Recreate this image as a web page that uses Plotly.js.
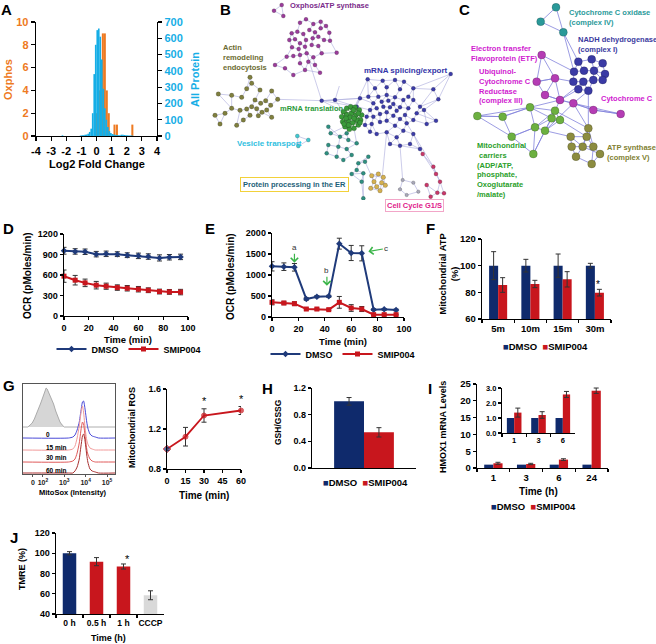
<!DOCTYPE html>
<html><head><meta charset="utf-8">
<script src="https://cdn.plot.ly/plotly-3.0.1.min.js"></script>
<style>html,body{margin:0;padding:0;background:#fff}#chart{width:656px;height:644px}</style>
</head><body><div id="chart"></div>
<script>
const W = 656, H = 644;
const FONT = 'Liberation Sans, Arial, Helvetica, sans-serif';
const NAVY = '#0f2a6c', NAVY_L = '#1f3a7a', RED = '#c8161d', ORANGE = '#ee7a22', SKY = '#16aee6', GREYBAR = '#d9d9d9';

// ---------------- DATA ----------------
// A: histograms
const aProteinX = [-2.25,-1.05,-0.95,-0.85,-0.75,-0.65,-0.55,-0.45,-0.35,-0.25,-0.15,-0.05,0.05,0.15,0.25,0.35,0.45,0.55,0.65,0.75,0.85,0.95,1.05,1.15,1.25,1.35,1.45,1.55,1.65,1.75,1.85,1.95,2.05,2.15,2.25,2.35];
const aProteinY = [4,3,4,5,7,9,14,25,45,140,380,560,650,660,610,470,290,170,100,55,30,18,12,9,7,6,5,5,8,7,6,5,4,3,3,3];
const aOxphosX = [0.03,0.16,0.29,0.42,0.55,0.68,0.81,1.19,1.35,2.37];
const aOxphosY = [2,4,6,9,9,4,2,1,1,1];
const aTicks = [-4,-3,-2,-1,0,1,2,3,4];
const aTickText = ['-4','-3','-2','-1','0','1','2','3','4'];

// B: network nodes (layout coordinates)
const bOxphos = [[245,15],[222,32],[250,48],[300,68],[318,58],[340,72],[362,65],[275,100],[292,95],[310,102],[328,90],[345,97],[362,85],[378,78],[388,98],[268,120],[285,118],[300,130],[318,120],[338,115],[355,110],[372,120],[390,122],[276,142],[296,147],[315,140],[335,135],[355,138],[260,170],[280,168],[300,165],[320,160],[340,172],[365,160],[410,158],[225,195],[255,205],[300,190],[325,185],[345,195],[280,225],[315,210],[360,218]];
const bActin = [[150,232],[155,250],[140,266],[55,282],[95,286],[125,292],[180,270],[215,273],[233,298],[165,300],[182,310],[197,302],[212,316],[200,330],[186,337],[170,326],[155,320],[140,327],[120,331],[150,346],[175,347],[215,352],[45,346],[75,340],[60,372],[110,376],[130,360],[95,325]];
const bTranslation = [[430,335],[440,325],[452,320],[465,322],[478,330],[485,345],[482,360],[475,375],[462,385],[448,388],[435,380],[428,365],[425,350],[440,345],[455,340],[468,345],[470,360],[458,368],[445,362],[450,352],[462,355],[438,355],[475,340],[445,375],[460,330],[432,372],[480,368]];
const bSplicing = [[503,238],[548,242],[585,240],[612,245],[640,265],[525,265],[560,262],[600,268],[625,290],[505,290],[535,290],[560,285],[585,292],[610,300],[640,300],[660,320],[480,295],[470,320],[520,310],[545,305],[565,302],[580,312],[600,322],[625,325],[650,340],[510,330],[530,325],[550,320],[570,322],[590,332],[615,345],[640,360],[500,350],[520,350],[540,342],[560,337],[580,347],[600,357],[620,370],[495,375],[515,372],[540,366],[560,362],[585,377],[610,392],[640,402],[510,395],[530,402],[560,397],[590,412],[570,432],[600,437],[630,432],[660,447],[405,300],[365,302],[752,222],[700,268],[715,298],[672,330],[708,362],[680,372]];
const bER = [[385,380],[392,400],[420,410],[440,400],[445,420],[385,435],[415,440],[440,447],[470,430],[455,465],[430,480],[475,490],[495,485],[505,470],[470,510],[490,520],[455,522],[485,545],[490,595],[410,470],[380,460]];
const bVesicle = [[292,408],[325,420],[295,438]];
const bGold = [[515,527],[535,522],[550,532],[522,545],[545,548],[530,560],[512,565],[540,572],[556,556]];
const bGrey = [[608,540],[640,548],[655,575],[620,585],[600,568]];
const bCellCycle = [[668,462],[700,500],[708,522],[720,545],[680,555],[732,580],[712,578],[692,590]];
const bLinks = [[[320,160],[365,302]],[[365,302],[405,300]],[[233,298],[365,302]],[[405,300],[430,335]],[[365,302],[430,335]],[[503,238],[455,340]],[[480,295],[455,340]],[[445,375],[392,400]],[[440,447],[455,465]],[[495,485],[522,545]],[[462,385],[470,430]],[[560,397],[545,548]],[[600,437],[608,540]],[[640,402],[700,500]],[[660,447],[668,462]],[[418,258],[405,300]]];

// C: network nodes
const cIV = [[408,22],[362,65],[430,97]];
const cI = [[475,185],[515,178],[548,190],[462,215],[492,212],[522,212],[555,222],[460,245],[490,245],[520,240],[548,240],[505,272],[475,268]];
const cIII = [[365,165],[405,235],[350,245],[375,285],[420,300],[460,310],[520,330],[602,342]];
const cCarriers = [[172,348],[248,350],[330,322],[405,332],[275,410],[345,382],[375,392],[420,360],[340,462],[395,355]];
const cV = [[505,385],[452,410],[500,410],[488,440],[520,440],[540,462],[468,470],[515,492],[455,440]];
const cLinks = [[[405,235],[460,245]],[[420,300],[490,245]],[[460,310],[505,272]],[[420,300],[475,268]],[[365,165],[462,215]],[[375,285],[420,300]],[[420,300],[460,310]],[[460,310],[520,330]],[[520,330],[602,342]],[[350,245],[405,235]],[[405,235],[420,300]],[[430,97],[475,185]],[[430,97],[462,215]],[[330,322],[420,300]],[[405,332],[420,300]],[[375,392],[460,310]],[[248,350],[330,322]],[[172,348],[248,350]],[[345,382],[405,332]],[[375,392],[452,410]],[[405,332],[505,385]],[[420,360],[500,410]],[[460,310],[505,385]],[[340,462],[375,392]],[[505,385],[505,272]],[[275,410],[345,382]]];

// D / E: OCR time courses
const timeMin = [0,9,17,26,34,43,51,60,68,77,85,94];
const dDmso = [955,945,940,905,910,905,890,880,870,850,860,865];
const dDmsoErr = [50,40,40,40,40,35,35,40,40,45,40,40];
const dSmip = [583,524,485,451,436,416,406,392,377,358,353,350];
const dSmipErr = [90,70,55,55,45,40,40,40,35,35,35,40];
const eDmso = [1206,1198,1183,429,484,492,1746,1524,1516,175,183,167];
const eDmsoErr = [110,90,90,30,25,25,130,180,180,20,20,20];
const eSmip = [349,333,317,190,190,175,349,214,190,56,56,56];
const eSmipErr = [60,40,45,20,20,20,140,80,60,15,10,10];

// F: mitochondrial ATP
const fCats = ['5m','10m','15m','30m'];
const fDmso = [100,100,100,100];
const fDmsoErr = [10.5,4.75,8.75,1.75];
const fSmip = [85.5,86.25,89.75,79.75];
const fSmipErr = [5.5,2.75,5.75,2.5];

// G: MitoSox flow histograms (x in log10 intensity units)
const ffGreyX = [1.07,1.30,1.40,1.50,1.60,1.70,1.80,1.90,2.00,2.10,2.15,2.20,2.25,2.30,2.40,2.50,2.60,2.70,2.80,2.90,3.00,5.37];
const ffGreyY = [0,0,2,4,8,13,19,24,30,36,39,38,36,33,28,23,16,10,5,2,0,0];
const ffX = [1.07,3.20,3.40,3.50,3.60,3.70,3.75,3.80,3.85,3.90,3.95,4.00,4.05,4.10,4.20,4.30,4.45,4.60,5.37];
const ff0Y = [0,0,1,3,8,16,23,30,36,37,32,24,16,10,4,2,1,0,0];
const ff15Y = [0,0,1,4,12,24,32,40,44,38,27,17,10,6,2,1,0,0,0];
const ff30Y = [0,0,1,3,9,19,27,35,40,38,30,21,13,8,3,1,0,0,0];
const ff60Y = [0,0,0,2,6,14,22,30,37,39,35,27,18,11,4,2,1,0,0];
const ffTickVals = [1.53,2,3,4,5];
const ffTickText = ['0','10<sup>2</sup>','10<sup>3</sup>','10<sup>4</sup>','10<sup>5</sup>'];
const ffLabels = ['0','15 min','30 min','60 min'];
// G: mitochondrial ROS
const rosTime = [0,15,30,60];
const ros = [1.0,1.123,1.335,1.385];
const rosErr = [0.015,0.093,0.067,0.04];

// H: GSH/GSSG
const hCats = ['DMSO','SMIP004'];
const hVals = [1.0,0.535];
const hErr = [0.057,0.07];

// I: HMOX1 mRNA
const iCats = ['1','3','6','24'];
const iDmso = [1,1,1,1];
const iSmip = [1.4,1.2,2.5,23.0];
const iSmipErr = [0.3,0.2,0.25,0.8];
const insetCats = ['1','3','6'];
const insetDmso = [1,1,1];
const insetSmip = [1.36,1.2,2.57];
const insetSmipErr = [0.3,0.22,0.2];

// J: TMRE
const jCats = ['0 h','0.5 h','1 h','CCCP'];
const jVals = [100,91.7,86.9,58.5];
const jErr = [1.6,4,2.5,4.4];

// ---------------- HELPERS ----------------
const dx = (a,b) => [a/W, b/W];
const dy = (top,bottom) => [1-bottom/H, 1-top/H];
function tf(size,color,weight){ return {family:FONT,size:size,color:color||'#000',weight:weight||'bold'}; }
function ax(extra){
  return Object.assign({showgrid:false,zeroline:false,showline:true,linecolor:'#000',linewidth:1.3,
    ticks:'outside',ticklen:3,tickwidth:1.2,tickcolor:'#000',tickfont:tf(9.5),fixedrange:true,tickangle:0}, extra);
}
function ann(text,x,y,o){
  o = o||{};
  return Object.assign({xref:'paper',yref:'paper',x:x/W,y:1-y/H,text:text,showarrow:false,
    xanchor:o.xa||'center',yanchor:'middle',align:o.align||'center',textangle:o.rot?-90:0,
    font:tf(o.size||9.5,o.color,o.weight)}, o.extra||{});
}
function knn(nodes,k){
  const segs=[], seen=new Set();
  nodes.forEach((p,i)=>{
    nodes.map((q,j)=>[j,(q[0]-p[0])**2+(q[1]-p[1])**2]).filter(e=>e[0]!==i)
      .sort((a,b)=>a[1]-b[1]).slice(0,k).forEach(([j])=>{
        const key = i<j ? i+'-'+j : j+'-'+i;
        if(!seen.has(key)){ seen.add(key); segs.push([p,nodes[j]]); }
      });
  });
  return segs;
}
function edgeTrace(segs,color,width,xa,ya,op){
  const xs=[],ys=[];
  segs.forEach(s=>{xs.push(s[0][0],s[1][0],null); ys.push(s[0][1],s[1][1],null);});
  return {type:'scatter',mode:'lines',x:xs,y:ys,line:{color:color,width:width},opacity:op||1,
    xaxis:xa,yaxis:ya,showlegend:false,hoverinfo:'skip'};
}
function nodeTrace(nodes,color,size,xa,ya){
  return {type:'scatter',mode:'markers',x:nodes.map(p=>p[0]),y:nodes.map(p=>p[1]),
    marker:{color:color,size:size,line:{color:'rgba(0,0,0,0.35)',width:0.5}},
    xaxis:xa,yaxis:ya,showlegend:false,hoverinfo:'skip'};
}
const errStyle = arr => ({type:'data',array:arr,color:'#333',thickness:1,width:2.5});

// ---------------- TRACES ----------------
const traces = [];
// A
traces.push({type:'bar',x:aOxphosX,y:aOxphosY,width:0.135,offset:-0.0675,marker:{color:ORANGE,line:{width:0}},xaxis:'x',yaxis:'y',name:'Oxphos',showlegend:false});
traces.push({type:'bar',x:aProteinX,y:aProteinY,width:0.11,offset:-0.055,marker:{color:SKY,line:{width:0}},xaxis:'x',yaxis:'y2',name:'All Protein',showlegend:false});

// B
traces.push(edgeTrace([].concat(knn(bOxphos,2),knn(bActin,2),knn(bSplicing,3),knn(bER,2),knn(bVesicle,2),knn(bGold,3),knn(bGrey,2),knn(bCellCycle,2),bLinks),'#a9a9dc',0.6,'x2','y3'));
traces.push(edgeTrace(knn(bTranslation,5),'#2f7f2f',0.8,'x2','y3'));
traces.push(nodeTrace(bOxphos,'#9a3c9a',4,'x2','y3'));
traces.push(nodeTrace(bActin,'#7f7f3f',4.5,'x2','y3'));
traces.push(nodeTrace(bSplicing,'#3c3ca8',4,'x2','y3'));
traces.push(nodeTrace(bTranslation,'#3a9a3a',5,'x2','y3'));
traces.push(nodeTrace(bER,'#2f8f80',4,'x2','y3'));
traces.push(nodeTrace(bVesicle,'#40c8d0',4,'x2','y3'));
traces.push(nodeTrace(bGold,'#d4b050',4.5,'x2','y3'));
traces.push(nodeTrace(bGrey,'#a8a8b8',3.5,'x2','y3'));
traces.push(nodeTrace(bCellCycle,'#c8386a',4,'x2','y3'));

// C
traces.push(edgeTrace([].concat(knn(cIV,2),knn(cI,3),knn(cIII,2),knn(cCarriers,3),knn(cV,3),cLinks),'#5b5bd0',0.8,'x3','y4',0.75));
traces.push(nodeTrace(cIV,'#2a9999',8,'x3','y4'));
traces.push(nodeTrace(cI,'#3a3aa5',8,'x3','y4'));
traces.push(nodeTrace(cIII,'#b43cb4',8,'x3','y4'));
traces.push(nodeTrace(cCarriers,'#6cb040',8,'x3','y4'));
traces.push(nodeTrace(cV,'#8c8c40',8,'x3','y4'));

// D
traces.push({type:'scatter',mode:'lines+markers',x:timeMin,y:dDmso,name:'DMSO',xaxis:'x4',yaxis:'y5',
  line:{color:NAVY_L,width:2},marker:{symbol:'diamond',size:5,color:NAVY_L},error_y:errStyle(dDmsoErr),legend:'legend',cliponaxis:false});
traces.push({type:'scatter',mode:'lines+markers',x:timeMin,y:dSmip,name:'SMIP004',xaxis:'x4',yaxis:'y5',
  line:{color:RED,width:2},marker:{symbol:'square',size:5,color:RED},error_y:errStyle(dSmipErr),legend:'legend',cliponaxis:false});
// E
traces.push({type:'scatter',mode:'lines+markers',x:timeMin,y:eDmso,name:'DMSO',xaxis:'x5',yaxis:'y6',
  line:{color:NAVY_L,width:2},marker:{symbol:'diamond',size:5,color:NAVY_L},error_y:errStyle(eDmsoErr),legend:'legend2',cliponaxis:false});
traces.push({type:'scatter',mode:'lines+markers',x:timeMin,y:eSmip,name:'SMIP004',xaxis:'x5',yaxis:'y6',
  line:{color:RED,width:2},marker:{symbol:'square',size:5,color:RED},error_y:errStyle(eSmipErr),legend:'legend2',cliponaxis:false});
// F
traces.push({type:'bar',x:fCats,y:fDmso,width:0.28,offset:-0.28,marker:{color:NAVY},error_y:errStyle(fDmsoErr),xaxis:'x6',yaxis:'y7',name:'DMSO',showlegend:false});
traces.push({type:'bar',x:fCats,y:fSmip,width:0.28,offset:0,marker:{color:RED},error_y:errStyle(fSmipErr),xaxis:'x6',yaxis:'y7',name:'SMIP004',showlegend:false});

// G flow histograms (stacked with vertical offsets)
const FF_OFF = {grey:47, t0:36, t15:24, t30:12, t60:1};
traces.push({type:'scatter',mode:'lines',x:ffGreyX,y:ffGreyY.map(v=>v+FF_OFF.grey),fill:'toself',fillcolor:'#d6d6d6',
  line:{color:'#9a9a9a',width:0.8},xaxis:'x7',yaxis:'y8',showlegend:false,hoverinfo:'skip'});
[[ff0Y,FF_OFF.t0,'#4a4ad8'],[ff15Y,FF_OFF.t15,'#f29a9a'],[ff30Y,FF_OFF.t30,'#e05a5a'],[ff60Y,FF_OFF.t60,'#a83030']].forEach(s=>{
  traces.push({type:'scatter',mode:'lines',x:ffX,y:s[0].map(v=>v+s[1]),line:{color:s[2],width:1,shape:'spline',smoothing:0.6},
    xaxis:'x7',yaxis:'y8',showlegend:false,hoverinfo:'skip'});
});
// G ROS
traces.push({type:'scatter',mode:'lines+markers',x:rosTime,y:ros,xaxis:'x8',yaxis:'y9',showlegend:false,cliponaxis:false,
  line:{color:RED,width:1.8},marker:{size:[6,5,5,5],symbol:['diamond','circle','circle','circle'],color:[NAVY_L,RED,RED,RED]},
  error_y:errStyle(rosErr)});

// H
traces.push({type:'bar',x:[hCats[0]],y:[hVals[0]],width:1,offset:-0.5,marker:{color:NAVY},error_y:errStyle([hErr[0]]),xaxis:'x9',yaxis:'y10',name:'DMSO',showlegend:false});
traces.push({type:'bar',x:[hCats[1]],y:[hVals[1]],width:1,offset:-0.5,marker:{color:RED},error_y:errStyle([hErr[1]]),xaxis:'x9',yaxis:'y10',name:'SMIP004',showlegend:false});

// I main + inset
traces.push({type:'bar',x:iCats,y:iDmso,width:0.28,offset:-0.28,marker:{color:NAVY},xaxis:'x10',yaxis:'y11',name:'DMSO',showlegend:false});
traces.push({type:'bar',x:iCats,y:iSmip,width:0.28,offset:0,marker:{color:RED},error_y:errStyle(iSmipErr),xaxis:'x10',yaxis:'y11',name:'SMIP004',showlegend:false});
traces.push({type:'bar',x:insetCats,y:insetDmso,width:0.3,offset:-0.3,marker:{color:NAVY},xaxis:'x11',yaxis:'y12',name:'DMSO',showlegend:false});
traces.push({type:'bar',x:insetCats,y:insetSmip,width:0.3,offset:0,marker:{color:RED},error_y:errStyle(insetSmipErr),xaxis:'x11',yaxis:'y12',name:'SMIP004',showlegend:false});

// J
traces.push({type:'bar',x:jCats,y:jVals,width:0.5,offset:-0.25,marker:{color:[NAVY,RED,RED,GREYBAR]},error_y:errStyle(jErr),xaxis:'x12',yaxis:'y13',showlegend:false});

// ---------------- LAYOUT ----------------
const legCommon = {orientation:'h',xanchor:'center',yanchor:'middle',font:tf(9),bgcolor:'rgba(0,0,0,0)',itemwidth:30,itemclick:false,itemdoubleclick:false};
const sq = (c)=>'<span style="color:'+c+'">\u25A0</span>';
const barLegend = sq(NAVY)+'DMSO\u00a0\u00a0'+sq(RED)+'SMIP004';

const annotations = [
  // panel letters
  ann('A',6,9,{size:15}), ann('B',225,9,{size:15}), ann('C',464,10,{size:15}),
  ann('D',8,228,{size:15}), ann('E',210,228,{size:15}), ann('F',430,228,{size:15}),
  ann('G',9,385,{size:15}), ann('H',267,388,{size:15}), ann('I',430,388,{size:15}), ann('J',14,537,{size:15}),
  // A
  ann('Oxphos',8,80,{rot:true,size:11,color:ORANGE}),
  ann('All Protein',195,80,{rot:true,size:11,color:SKY}),
  ann('Log2 Fold Change',97,164,{size:11}),
  // B labels
  ann('Oxphos/ATP synthase',288,6,{xa:'left',size:7.5,color:'#7a2a8a'}),
  ann('Actin<br>remodeling<br>endocytosis',221,57,{xa:'left',align:'left',size:7.5,color:'#6b6b30'}),
  ann('mRNA splicing/export',362,70,{xa:'left',size:8,color:'#3535a8'}),
  ann('mRNA translation',278,109,{xa:'left',size:7.5,color:'#2a9a3a'}),
  ann('Vesicle transport',235,143,{xa:'left',size:8,color:'#30c0e0'}),
  ann('Protein processing in the ER',294,184,{size:7.5,color:'#1e5f78',extra:{bordercolor:'#f2d13a',borderwidth:1,borderpad:2,bgcolor:'#fff'}}),
  ann('Cell Cycle G1/S',414,205,{size:7.5,color:'#e0208a',extra:{bordercolor:'#f2a6c8',borderwidth:1,borderpad:1,bgcolor:'#fff'}}),
  // C labels
  ann('Cytochrome C oxidase<br>(complex IV)',567,17,{xa:'left',align:'left',size:7.5,color:'#2a9a9a'}),
  ann('NADH dehydrogenase<br>(complex I)',576,44,{xa:'left',align:'left',size:7.5,color:'#3a3aa0'}),
  ann('Electron transfer<br>Flavoprotein (ETF)',469,54,{xa:'left',align:'left',size:7.5,color:'#d020d0'}),
  ann('Ubiquinol-<br>Cytochrome C<br>Reductase<br>(complex III)',477,86,{xa:'left',align:'left',size:7.5,color:'#d020d0'}),
  ann('Cytochrome C',599,99,{xa:'left',size:7.5,color:'#d020d0'}),
  ann('Mitochondrial<br> carriers<br>(ADP/ATP,<br>phosphate,<br>Oxoglutarate<br>/malate)',475,170,{xa:'left',align:'left',size:7.5,color:'#2aa02a'}),
  ann('ATP synthase<br>(complex V)',605,153,{xa:'left',align:'left',size:7.5,color:'#808030'}),
  // D
  ann('OCR (pMoles/min)',27,276,{rot:true,size:10}),
  ann('Time (min)',128,339,{size:9.5}),
  // E
  ann('OCR (pMoles/min)',230,277,{rot:true,size:10}),
  ann('Time (min)',343,342,{size:9.5}),
  {xref:'x5',yref:'y6',x:17,y:1293,ax:0,ay:-15,text:'a',showarrow:true,arrowhead:4,arrowsize:1.2,arrowwidth:1.2,arrowcolor:'#3cb54a',font:tf(8,'#333','normal')},
  {xref:'x5',yref:'y6',x:41.6,y:745,ax:0,ay:-15,text:'b',showarrow:true,arrowhead:4,arrowsize:1.2,arrowwidth:1.2,arrowcolor:'#3cb54a',font:tf(8,'#333','normal')},
  {xref:'x5',yref:'y6',x:73,y:1561,ax:18,ay:-3,text:'c',showarrow:true,arrowhead:4,arrowsize:1.2,arrowwidth:1.2,arrowcolor:'#3cb54a',font:tf(8,'#333','normal')},
  // F
  ann('Mitochondrial ATP<br>(%)',448.5,274,{rot:true,size:9.3}),
  ann('*',598,284,{size:10,weight:'normal'}),
  ann(barLegend,545,346,{size:9.5}),
  // G
  ann('MitoSox (Intensity)',73,492,{size:7.5}),
  ann(ffLabels[0],48,434,{size:6.5}),
  ann(ffLabels[1],57,447,{size:6.5}),
  ann(ffLabels[2],57,458,{size:6.5}),
  ann(ffLabels[3],57,470,{size:6.5}),
  ann('Mitochondrial ROS',132,428,{rot:true,size:9}),
  ann('Time (min)',204,495,{size:10}),
  ann('*',204,401,{size:11,weight:'normal'}),
  ann('*',241,399,{size:11,weight:'normal'}),
  // H
  ann('GSH/GSSG',278,422,{rot:true,size:8.5}),
  ann(barLegend,365,482,{size:9.5}),
  // I
  ann('HMOX1 mRNA Levels',443,427,{rot:true,size:9}),
  ann('Time (h)',538,491,{size:10}),
  ann(barLegend,533,506,{size:9.5}),
  // J
  ann('TMRE (%)',22,569,{rot:true,size:9}),
  ann('Time (h)',108,638,{size:9}),
  ann('*',127,559,{size:11,weight:'normal'})
];

const layout = {
  width:W, height:H, margin:{l:0,r:0,t:0,b:0,pad:0}, paper_bgcolor:'#fff', plot_bgcolor:'rgba(0,0,0,0)',
  barmode:'overlay', showlegend:true, font:{family:FONT,color:'#000'}, hovermode:false,
  // A
  xaxis: ax({domain:dx(36,157),anchor:'y',range:[-4,4],tickvals:aTicks,ticktext:aTickText,tickfont:tf(11),ticklen:4}),
  yaxis: ax({domain:dy(22,136),anchor:'x',range:[0,10],dtick:2,tickfont:tf(11,ORANGE),ticklen:4}),
  yaxis2: ax({overlaying:'y',side:'right',anchor:'x',range:[0,700],dtick:100,tickfont:tf(11,SKY),ticklen:4}),
  // B, C networks
  xaxis2: {domain:dx(200,460),anchor:'y3',range:[0,780],visible:false,fixedrange:true},
  yaxis3: {domain:dy(0,200),anchor:'x2',range:[600,0],visible:false,fixedrange:true},
  xaxis3: {domain:dx(460,656),anchor:'y4',range:[120,708],visible:false,fixedrange:true},
  yaxis4: {domain:dy(0,200),anchor:'x3',range:[600,0],visible:false,fixedrange:true},
  // D
  xaxis4: ax({domain:dx(64,188),anchor:'y5',range:[0,100],dtick:20,tick0:0,tickfont:tf(9)}),
  yaxis5: ax({domain:dy(234,316),anchor:'x4',range:[0,1200],dtick:300,tickfont:tf(9)}),
  // E
  xaxis5: ax({domain:dx(272,404),anchor:'y6',range:[0,100],dtick:20,tick0:0,tickfont:tf(9)}),
  yaxis6: ax({domain:dy(233,317),anchor:'x5',range:[0,2000],dtick:500,tickfont:tf(9)}),
  // F
  xaxis6: ax({domain:dx(482,611),anchor:'y7',type:'category',categoryarray:fCats,categoryorder:'array',range:[-0.5,3.5],tickson:'boundaries'}),
  yaxis7: ax({domain:dy(239,319),anchor:'x6',range:[60,120],dtick:20}),
  // G flow
  xaxis7: {domain:dx(23,115),anchor:'y8',range:[1.07,5.37],tickvals:ffTickVals,ticktext:ffTickText,showline:true,mirror:true,tickangle:0,
    linecolor:'#555',linewidth:1,ticks:'outside',ticklen:2,tickcolor:'#555',tickfont:tf(7,'#222'),showgrid:false,zeroline:false,fixedrange:true},
  yaxis8: {domain:dy(384,474),anchor:'x7',range:[0,90],showline:true,mirror:true,linecolor:'#555',linewidth:1,
    showticklabels:false,ticks:'',showgrid:false,zeroline:false,fixedrange:true},
  // G ROS
  xaxis8: ax({domain:dx(167,241),anchor:'y9',range:[0,60],tickvals:[0,15,30,45,60],tickfont:tf(9)}),
  yaxis9: ax({domain:dy(389,469),anchor:'x8',range:[0.8,1.6],tickvals:[0.8,1.2,1.6],tickformat:'.1f',tickfont:tf(9)}),
  // H
  xaxis9: ax({domain:dx(312,416),anchor:'y10',type:'category',categoryarray:hCats,categoryorder:'array',range:[-1.24,2.24],showticklabels:false,ticks:''}),
  yaxis10: ax({domain:dy(388,468),anchor:'x9',range:[0,1.2],tickvals:[0,0.4,0.8,1.2],tickformat:'.1f',tickfont:tf(9)}),
  // I main
  xaxis10: ax({domain:dx(477,608),anchor:'y11',type:'category',categoryarray:iCats,categoryorder:'array',range:[-0.5,3.5],tickson:'boundaries'}),
  yaxis11: ax({domain:dy(384,468),anchor:'x10',range:[0,25],dtick:5}),
  // I inset
  xaxis11: ax({domain:dx(502,575),anchor:'y12',type:'category',categoryarray:insetCats,categoryorder:'array',range:[-0.5,2.5],tickson:'boundaries',tickfont:tf(7.5),linewidth:1.1}),
  yaxis12: ax({domain:dy(388,433),anchor:'x11',range:[0,3],tickvals:[0,1,2,3],tickformat:'.1f',tickfont:tf(7.5),linewidth:1.1}),
  // J
  xaxis12: ax({domain:dx(56,164),anchor:'y13',type:'category',categoryarray:jCats,categoryorder:'array',range:[-0.5,3.5],tickson:'boundaries',tickfont:tf(8.5),tickangle:0}),
  yaxis13: ax({domain:dy(533,614),anchor:'x12',range:[40,120],dtick:20,tickfont:tf(9)}),
  legend: Object.assign({x:129/W,y:1-349/H},legCommon),
  legend2: Object.assign({x:343/W,y:1-354/H},legCommon),
  annotations: annotations
};

Plotly.newPlot('chart', traces, layout, {staticPlot:true, displayModeBar:false});
</script>
</body></html>
